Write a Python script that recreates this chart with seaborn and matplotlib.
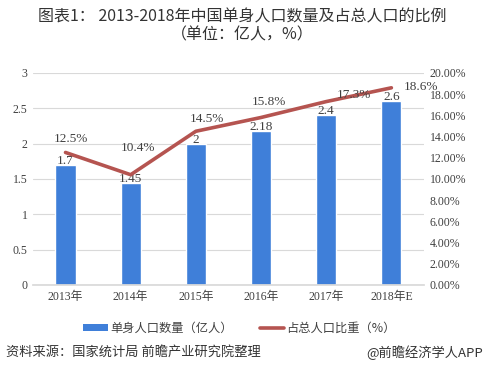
import matplotlib
matplotlib.use("Agg")
import matplotlib.pyplot as plt
import seaborn as sns
import pandas as pd
from matplotlib.ticker import FuncFormatter
from matplotlib.patches import Patch
from matplotlib.lines import Line2D

years = ["2013年", "2014年", "2015年", "2016年", "2017年", "2018年E"]
single_pop = [1.7, 1.45, 2.0, 2.18, 2.4, 2.6]
bar_labels = ["1.7", "1.45", "2", "2.18", "2.4", "2.6"]
share_pct = [12.5, 10.4, 14.5, 15.8, 17.3, 18.6]
share_labels = ["12.5%", "10.4%", "14.5%", "15.8%", "17.3%", "18.6%"]

sns.set_theme(style="white")
serif = ["Liberation Serif", "Noto Sans CJK SC"]
cjk = ["Noto Sans CJK SC", "DejaVu Sans"]
plt.rcParams["font.family"] = serif

bar_color = "#3F7FD9"
line_color = "#B55450"
txt = "#404040"

df = pd.DataFrame({"year": years, "pop": single_pop, "share": share_pct})

fig = plt.figure(figsize=(4.84, 3.82), dpi=100)
ax = fig.add_axes([0.068, 0.254, 0.808, 0.555])
sns.barplot(data=df, x="year", y="pop", color=bar_color, width=0.31,
            saturation=1, ax=ax)
ax.set_ylim(0, 3)
ax.set_yticks([0, 0.5, 1, 1.5, 2, 2.5, 3])
ax.yaxis.set_major_formatter(FuncFormatter(lambda v, p: f"{v:g}"))
ax.grid(axis="y", color="#D9D9D9", linewidth=0.8)
ax.set_axisbelow(True)
for s in ["top", "right", "left"]:
    ax.spines[s].set_visible(False)
ax.spines["bottom"].set_color("#D9D9D9")
ax.set_xlabel("")
ax.set_ylabel("")
ax.tick_params(axis="both", length=0, labelsize=8.5, colors=txt, pad=4)
for lab in ax.get_xticklabels():
    lab.set_fontfamily(serif)
ax.set_xlim(-0.5, 5.5)

for i, (v, l) in enumerate(zip(single_pop, bar_labels)):
    ax.text(i, v - 0.03, l, ha="center", va="bottom", fontsize=9.5, color=txt)

ax2 = ax.twinx()
sns.lineplot(x=list(range(len(years))), y=share_pct, ax=ax2, color=line_color,
             linewidth=2.6, legend=False)
ax2.set_ylim(0, 20)
ax2.set_yticks(range(0, 21, 2))
ax2.yaxis.set_major_formatter(FuncFormatter(lambda v, p: f"{v:.2f}%"))
for s in ["top", "right", "left", "bottom"]:
    ax2.spines[s].set_visible(False)
ax2.tick_params(axis="y", length=0, labelsize=8.5, colors=txt, pad=4)
ax2.grid(False)
ax2.set_xlim(-0.5, 5.5)

offsets = [(0.08, 1.25), (0.12, 2.5), (0.17, 1.2), (0.12, 1.5), (0.42, 0.65), (0.45, 0.1)]
for i, (v, l) in enumerate(zip(share_pct, share_labels)):
    dx, dy = offsets[i]
    ax2.text(i + dx, v + dy, l, ha="center", va="center", fontsize=9.5, color=txt)

fig.text(0.5, 0.955, "图表1： 2013-2018年中国单身人口数量及占总人口的比例",
         ha="center", va="center", fontsize=11.5, color="#333333", family=cjk)
fig.text(0.5, 0.908, "（单位：亿人，%）", ha="center", va="center",
         fontsize=11.5, color="#333333", family=cjk)

handles = [Patch(facecolor=bar_color, edgecolor="none"),
           Line2D([0], [0], color=line_color, linewidth=2.6)]
fig.legend(handles, ["单身人口数量（亿人）", "占总人口比重（%）"],
           loc="center", bbox_to_anchor=(0.495, 0.14), ncol=2, frameon=False,
           prop={"family": cjk, "size": 8.8}, labelcolor=txt,
           handlelength=2.0, handleheight=0.5, columnspacing=2.2,
           handletextpad=0.2)

fig.text(0.012, 0.078, "资料来源：国家统计局 前瞻产业研究院整理", ha="left",
         va="center", fontsize=9.5, color="#333333", style="italic", family=cjk)
fig.text(0.997, 0.078, "@前瞻经济学人APP", ha="right", va="center",
         fontsize=9.5, color="#333333", family=cjk)

fig.savefig("out.png", dpi=100)
